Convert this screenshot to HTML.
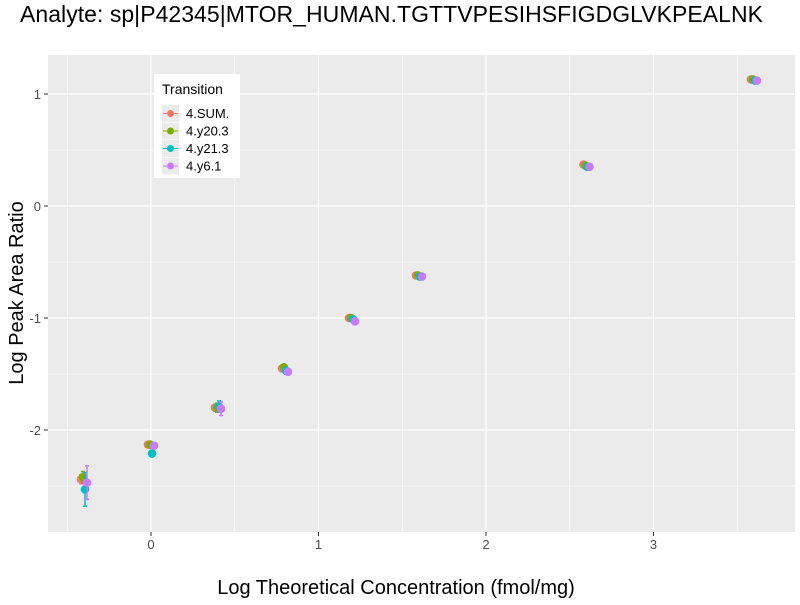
<!DOCTYPE html>
<html><head><meta charset="utf-8"><style>
body{margin:0;background:#fff;font-family:"Liberation Sans",sans-serif}
</style></head><body>
<svg id="c" width="800" height="600" xmlns="http://www.w3.org/2000/svg"></svg>
<script>
const xCats=[-0.4,0,0.4,0.8,1.2,1.6,2.6,3.6];
const seriesNames=["4.SUM.","4.y20.3","4.y21.3","4.y6.1"];
const colors=["#F8766D","#7CAE00","#00BFC4","#C77CFF"];
const ySUM=[-2.44,-2.13,-1.80,-1.45,-1.00,-0.62,0.37,1.13];
const yY203=[-2.42,-2.13,-1.80,-1.44,-1.00,-0.62,0.36,1.13];
const yY213=[-2.53,-2.21,-1.79,-1.47,-1.01,-0.63,0.35,1.12];
const yY61=[-2.47,-2.14,-1.81,-1.48,-1.03,-0.63,0.35,1.12];
const eSUM=[0.04,0.02,0.03,0.02,0.01,0.01,0.01,0.01];
const eY203=[0.05,0.03,0.04,0.02,0.01,0.01,0.01,0.01];
const eY213=[0.15,0.03,0.05,0.03,0.02,0.01,0.01,0.01];
const eY61=[0.15,0.02,0.06,0.03,0.02,0.01,0.01,0.01];
const xTicks=[0,1,2,3];
const yTicks=[-2,-1,0,1];
const ys=[ySUM,yY203,yY213,yY61], es=[eSUM,eY203,eY213,eY61];
const L=48,R=795,T=55,B=532;
const X=v=>151+(v)*167.5, Y=v=>206-v*112;
const svg=document.getElementById('c');const NS="http://www.w3.org/2000/svg";
function el(t,a,p){const e=document.createElementNS(NS,t);for(const k in a)e.setAttribute(k,a[k]);(p||svg).appendChild(e);return e;}
let r=el('rect',{x:L,y:T,width:R-L,height:B-T,fill:'#EBEBEB'});


for(let v=-0.5;v<=3.6;v+=1){let g=el('line',{x1:X(v),x2:X(v),y1:T,y2:B,stroke:'#fff','stroke-width':0.6});}
for(let v=-2.5;v<=1.3;v+=1){let g=el('line',{x1:L,x2:R,y1:Y(v),y2:Y(v),stroke:'#fff','stroke-width':0.6});}
xTicks.forEach(v=>{let g=el('line',{x1:X(v),x2:X(v),y1:T,y2:B,stroke:'#fff','stroke-width':1.2});
let t=el('line',{x1:X(v),x2:X(v),y1:B,y2:B+4,stroke:'#333'});
let l=el('text',{x:X(v),y:B+17,'text-anchor':'middle','font-size':13,fill:'#4D4D4D'});l.textContent=v;});
yTicks.forEach(v=>{let g=el('line',{x1:L,x2:R,y1:Y(v),y2:Y(v),stroke:'#fff','stroke-width':1.2});
let t=el('line',{x1:L-4,x2:L,y1:Y(v),y2:Y(v),stroke:'#333'});
let l=el('text',{x:L-7,y:Y(v)+5,'text-anchor':'end','font-size':13,fill:'#4D4D4D'});l.textContent=v;});
const off=[-0.018,-0.006,0.006,0.018];
ys.forEach((s,i)=>{s.forEach((v,j)=>{const cx=X(xCats[j]+off[i]);
let eb=el('path',{d:`M${cx-2},${Y(v+es[i][j])}H${cx+2}M${cx},${Y(v+es[i][j])}V${Y(v-es[i][j])}M${cx-2},${Y(v-es[i][j])}H${cx+2}`,stroke:colors[i],'stroke-width':1.5,fill:'none'});

let p=el('circle',{cx:cx,cy:Y(v),r:4.3,fill:colors[i]});});});
let title=el('text',{x:20,y:22,'font-size':23,fill:'#000',textLength:743});title.textContent='Analyte: sp|P42345|MTOR_HUMAN.TGTTVPESIHSFIGDGLVKPEALNK';
let xt=el('text',{x:396,y:594,'text-anchor':'middle','font-size':20,fill:'#000'});xt.textContent='Log Theoretical Concentration (fmol/mg)';
let yt=el('text',{x:23,y:293,'text-anchor':'middle','font-size':20,fill:'#000',transform:'rotate(-90 23 293)'});yt.textContent='Log Peak Area Ratio';
let lg=el('g',{});
el('rect',{x:154,y:74,width:86,height:104,fill:'#fff'},lg);
let lt=el('text',{x:162,y:94,'font-size':14,fill:'#000'},lg);lt.textContent='Transition';
seriesNames.forEach((n,i)=>{const yy=113+i*17.5;
el('rect',{x:162,y:yy-8,width:17,height:17,fill:'#EBEBEB'},lg);
el('line',{x1:163,x2:178,y1:yy+0.5,y2:yy+0.5,stroke:colors[i],'stroke-width':1},lg);
el('circle',{cx:170.5,cy:yy+0.5,r:3.5,fill:colors[i]},lg);
let t=el('text',{x:186,y:yy+5,'font-size':13,fill:'#000'},lg);t.textContent=n;});
</script>
</body></html>
